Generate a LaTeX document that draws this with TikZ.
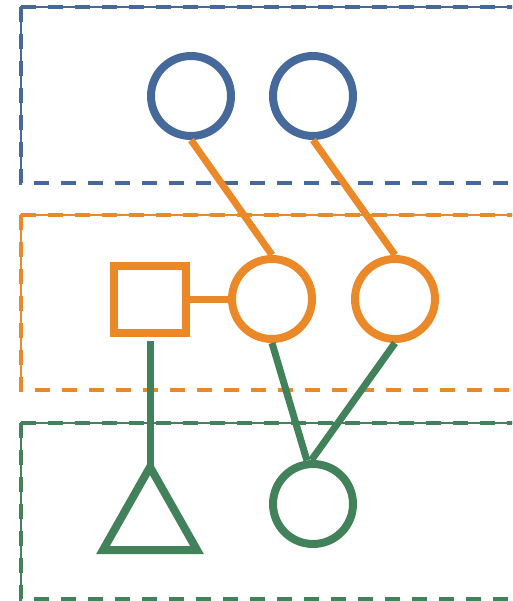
\documentclass[tikz,border=0pt]{standalone}
\begin{document}
\begin{tikzpicture}[x=1pt,y=-1pt]
\definecolor{cblue}{RGB}{70,105,155}
\definecolor{corange}{RGB}{235,137,40}
\definecolor{cgreen}{RGB}{65,130,90}
\tikzset{
  ring/.style={circle,draw=#1,line width=8pt,minimum size=80pt,inner sep=0pt},
  edge/.style={draw=#1,line width=7pt},
  zone/.style={draw=#1,line width=4pt,dash pattern=on 15pt off 12pt},
  zoneline/.style={draw=#1,line width=1.3pt},
}
\useasboundingbox (0,0) rectangle (512,601);
\clip (0,0) rectangle (512,601);
% zones
\foreach \c/\t/\b in {cblue/7/183,corange/215/390,cgreen/423/599}{
  \draw[zoneline=\c] (540,\t) -- (21,\t) -- (21,\b);
  \draw[zone=\c] (21,\t) -- (21,\b) -- (540,\b);
  \draw[zone=\c] (21,\t) -- (540,\t);
}
% nodes
\node[ring=cblue] (b1) at (191,96) {};
\node[ring=cblue] (b2) at (313,96) {};
\node[draw=corange,line width=8pt,minimum width=72pt,minimum height=67pt,inner sep=0pt] (sq) at (150,299) {};
\node[ring=corange] (o1) at (272,299) {};
\node[ring=corange] (o2) at (395,299) {};
\node[ring=cgreen] (g1) at (313,504) {};
\coordinate (tri) at (150,467);
\draw[cgreen,line width=8pt,line join=miter] (tri) -- (197,550) -- (103,550) -- cycle;
% connectors
\draw[edge=corange] (b1.south) -- (o1.north);
\draw[edge=corange] (b2.south) -- (o2.north);
\draw[edge=corange] (sq.east) -- (o1.west);
\draw[edge=cgreen,shorten <=4pt] (sq.south) -- (tri);
\draw[edge=cgreen] (o1.south) -- (g1.98);
\draw[edge=cgreen] (o2.south) -- (g1.92);
\end{tikzpicture}
\end{document}
